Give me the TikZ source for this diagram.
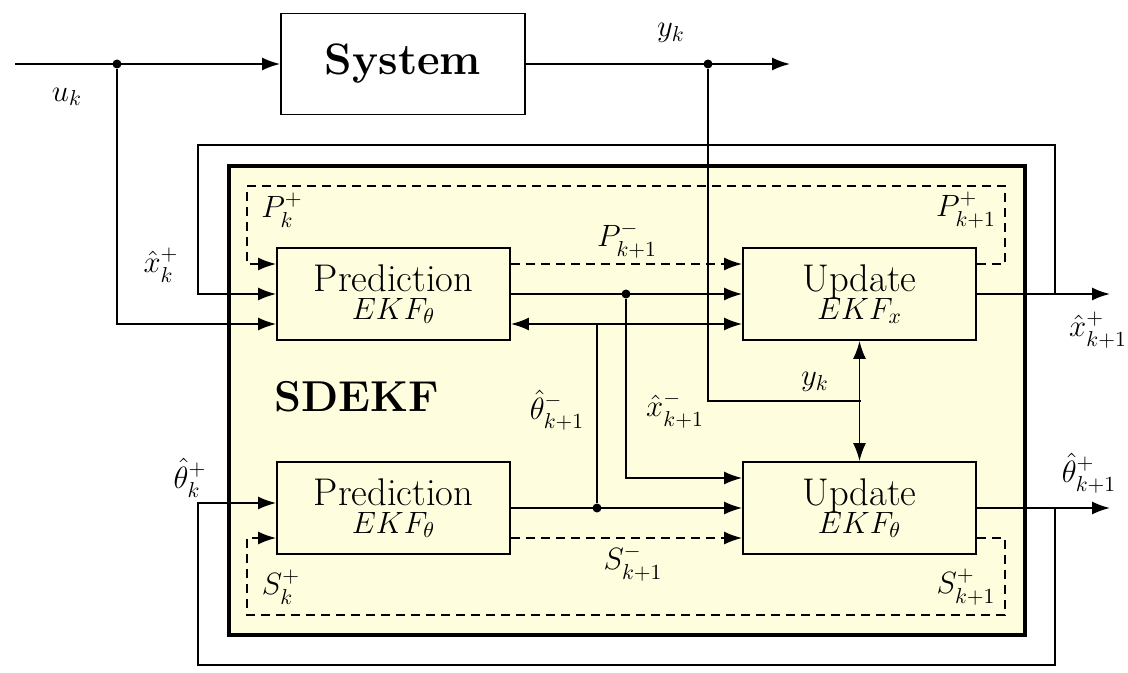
\RequirePackage{fix-cm}
\documentclass[tikz,border=0pt]{standalone}
\usepackage{amsmath}
\usepackage{amssymb}
\usetikzlibrary{arrows.meta}
\usetikzlibrary{calc}
\definecolor{filtbg}{RGB}{254,254,223}
\newcommand{\lblsize}{\fontsize{15.4}{18}\selectfont}
\newcommand{\blksize}{\fontsize{19.3}{22}\selectfont}

\begin{document}
\begin{tikzpicture}[x=0.5pt, y=-0.5pt, line width=0.9pt,
  >={Latex[length=9pt,width=6.5pt]},
  block/.style={draw, fill=filtbg, minimum width=116.5pt, minimum height=46pt, inner sep=0pt, align=center, font=\lblsize},
  lbl/.style={font=\lblsize, inner sep=0pt},
  dot/.style={circle, fill, inner sep=0pt, minimum size=4.5pt},
  loop/.style={dash pattern=on 4.5pt off 3pt}]

\useasboundingbox (0,0) rectangle (1128,673);

% filter frame
\draw[line width=2.4pt, fill=filtbg] (229,166) rectangle (1025,635);
\node[font=\fontsize{21.6}{24}\selectfont\bfseries] (sdekf) at (357,397) {SDEKF};

% blocks
\node[draw, minimum width=122pt, minimum height=50.5pt, font=\fontsize{22}{25}\selectfont\bfseries] (sys) at (403,64) {System};
\node[block] (predtop) at (393.5,294) {{\blksize Prediction}\\[-4pt]$EKF_\theta$};
\node[block] (updtop) at (859.5,294) {{\blksize Update}\\[-4pt]$EKF_x$};
\node[block] (predbot) at (393.5,508) {{\blksize Prediction}\\[-4pt]$EKF_\theta$};
\node[block] (updbot) at (859.5,508) {{\blksize Update}\\[-4pt]$EKF_\theta$};

% junctions and free ends
\coordinate (uin) at (15,64);
\node[dot] (uj) at (117,64) {};
\node[dot] (yj) at (708,64) {};
\coordinate (yout) at (790,64);
\node[dot] (xj) at (626,294) {};
\node[dot] (thj) at (597,508) {};
\coordinate (thsplit) at (597,324);
\coordinate (ymeet) at (861,401);
\coordinate (xfb) at (1055,294);
\coordinate (xout) at (1110,294);
\coordinate (thfb) at (1055,508);
\coordinate (thout) at (1110,508);

% system in and out
\draw[->] (uin) -- (sys.west);
\draw[->] (uj) |- ($(predtop.west)+(0,30)$);
\draw[->] (sys.east) -- (yout);
\draw (yj) |- (ymeet);

% feedback loops
\draw[->] (updtop.east) -- (xout);
\draw[->] (xfb) |- (198,145) |- (predtop.west);
\draw[->] (updbot.east) -- (thout);
\draw[->] (thfb) |- (198,665) |- ($(predbot.west)+(0,-5)$);

% covariances
\draw[loop,->] ($(updtop.east)+(0,-30)$) -| (1005,186) -| (247,264) -- ($(predtop.west)+(0,-30)$);
\draw[loop,->] ($(predtop.east)+(0,-30)$) -- ($(updtop.west)+(0,-30)$);
\draw[loop,->] ($(updbot.east)+(0,30)$) -| (1005,615) -| (247,538) -- ($(predbot.west)+(0,30)$);
\draw[loop,->] ($(predbot.east)+(0,30)$) -- ($(updbot.west)+(0,30)$);

% states
\draw[->] (predtop.east) -- (updtop.west);
\draw[->] (xj) |- ($(updbot.west)+(0,-30)$);
\draw[->] (predbot.east) -- (updbot.west);
\draw (thj) -- (thsplit);
\draw[<->] ($(predtop.east)+(0,30)$) -- ($(updtop.west)+(0,30)$);
\draw[<->] (updtop.south) -- (updbot.north);

% labels
\node[lbl] (lu) at (67,97) {$u_k$};
\node[lbl] (ly) at (671,33) {$y_k$};
\node[lbl] (lyin) at (815,382) {$y_k$};
\node[lbl] (lpk) at (282,210) {$P_k^+$};
\node[lbl] (lpk1) at (966,210) {$P_{k+1}^+$};
\node[lbl] (lpm) at (627,240) {$P_{k+1}^-$};
\node[lbl] (lxk) at (161,265) {$\hat{x}_k^+$};
\node[lbl] (lxk1) at (1098,330) {$\hat{x}_{k+1}^+$};
\node[lbl] (lxm) at (675,410) {$\hat{x}_{k+1}^-$};
\node[lbl] (ltk) at (190,478) {$\hat{\theta}_k^+$};
\node[lbl] (ltk1) at (1089,473) {$\hat{\theta}_{k+1}^+$};
\node[lbl] (ltm) at (557,410) {$\hat{\theta}_{k+1}^-$};
\node[lbl] (lsk) at (281,587) {$S_k^+$};
\node[lbl] (lsm) at (633,563) {$S_{k+1}^-$};
\node[lbl] (lsk1) at (966,587) {$S_{k+1}^+$};

\end{tikzpicture}
\end{document}
